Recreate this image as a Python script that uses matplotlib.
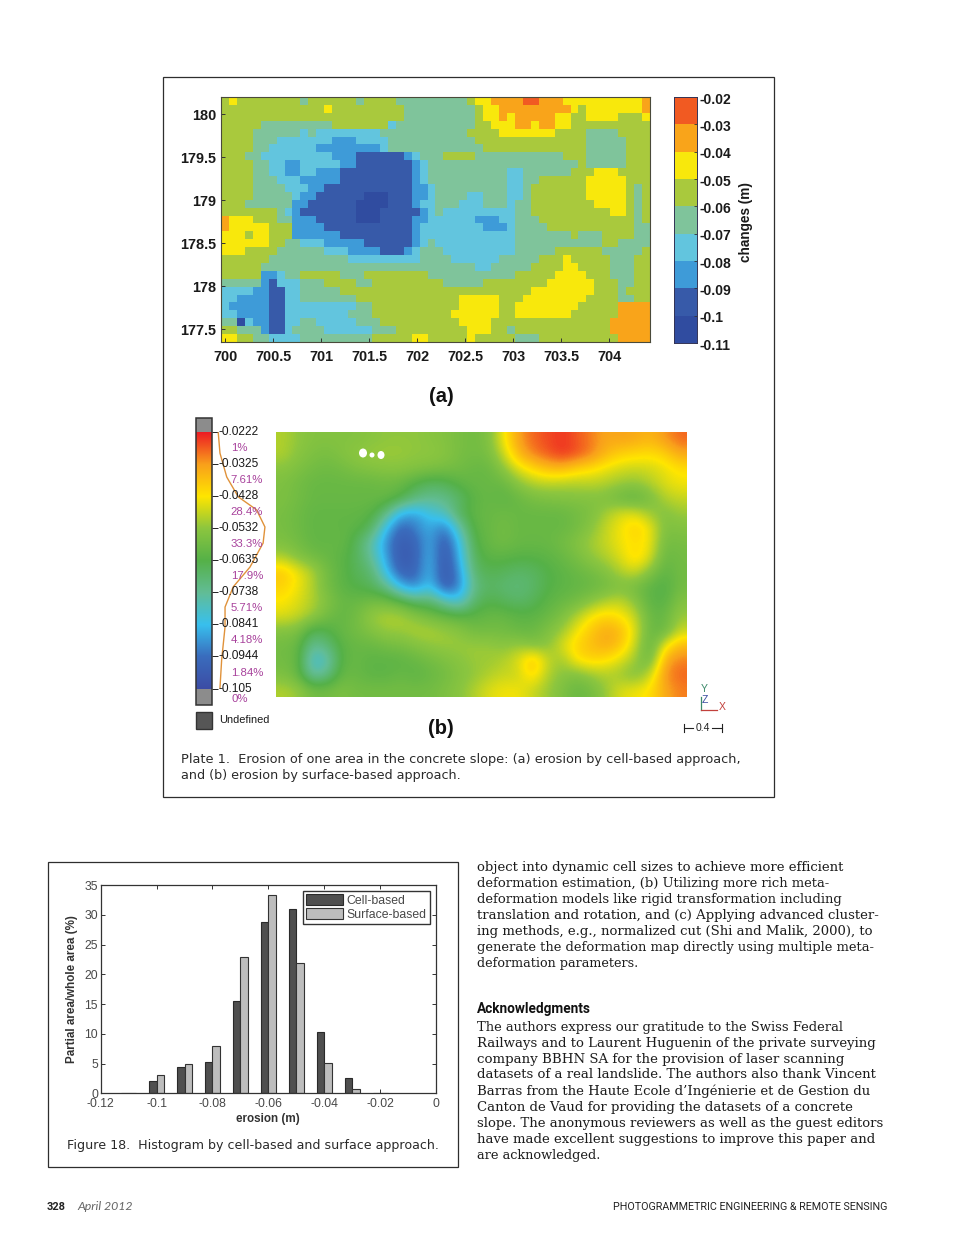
import numpy as np
import matplotlib
matplotlib.use("Agg")
import matplotlib.pyplot as plt
from matplotlib.colors import ListedColormap, BoundaryNorm, LinearSegmentedColormap
from matplotlib.patches import Rectangle, Ellipse

plt.rcParams['font.family'] = ['Liberation Sans', 'DejaVu Sans']

# ==========================================
# Data
# ==========================================
# Plate 1 (a): class of each cell, 0 = lowest band, 8 = highest band
cell_rows = [
    "565555555 545555554 555544444 444456677 778877766 666666667",
    "555555555 555565555 555554444 444445667 777777776 566666667",
    "555555555 555555555 555554444 444445667 677777665 566665556",
    "555554444 444445555 555344444 444445566 677677665 555555555",
    "555544444 434333333 334444444 444455556 666666555 544445555",
    "555544433 333332223 333444444 444445555 555555555 544444555",
    "555544333 333222222 223444444 444444555 555555555 544444555",
    "555443333 333332221 111112344 455554444 444444455 544444555",
    "555544332 233333221 111111234 444444444 444444444 544444555",
    "555544332 233222111 111111234 444444444 334444445 556665555",
    "555544433 322222111 111111234 444444444 334455555 566666555",
    "555544443 332211111 111111223 444444444 334555555 566666545",
    "555544444 322111111 000111223 444433444 334555555 566666545",
    "555444444 221111110 000111233 444333444 344555555 556666545",
    "555555543 211111110 001111123 433333333 344555555 555566545",
    "766655544 222111110 001111223 333332223 344455555 555555545",
    "766666555 222211111 111111233 333333222 344445555 555555544",
    "666566555 222222111 111111233 333333333 344444445 444555544",
    "666666554 433322222 111111234 333333333 344444444 444554444",
    "666555544 444433322 221112344 433333333 344444555 555444445",
    "555555444 444444433 333333344 443333334 444455565 555544455",
    "555554444 444444444 444444444 444443344 444555566 555544455",
    "555552234 455555444 555555554 444444444 455555666 655544455",
    "444442133 344455554 455555555 544444555 555556666 665554455",
    "333322113 344444555 555555555 555555555 555666666 665554555",
    "332222113 344444445 555555555 555666665 556666666 655554455",
    "322222113 333333334 455555555 555666665 566666666 555557777",
    "332222113 333333344 455555555 556666665 566666665 555557777",
    "440322113 344333334 445555555 555666655 555555555 555577777",
    "554442113 444433333 344455555 555566655 455555555 555577777",
    "665544333 344444444 455555665 555565555 544455555 555557777",
]
band_colors = ['#304ca0', '#375aa9', '#3e9bd8', '#62c5de', '#7fc49b',
               '#a9c93d', '#f8e80c', '#f9a41a', '#f15a22']
band_edges = [-0.11, -0.10, -0.09, -0.08, -0.07, -0.06, -0.05, -0.04, -0.03, -0.02]
a_xticks = [700, 700.5, 701, 701.5, 702, 702.5, 703, 703.5, 704]
a_yticks = [177.5, 178, 178.5, 179, 179.5, 180]

# Plate 1 (b): erosion in mm on a coarse grid
surface_mm = [
    [50, 53, 55, 55, 55, 55, 54, 53, 53, 53, 54, 55, 57, 58, 56, 44, 33, 28, 26, 24, 27, 30, 34, 33, 34, 36, 32, 28],
    [50, 54, 56, 57, 55, 53, 52, 52, 52, 53, 53, 54, 57, 58, 57, 48, 36, 30, 27, 24, 26, 30, 36, 40, 41, 42, 40, 34],
    [54, 56, 58, 59, 58, 56, 55, 54, 54, 55, 56, 57, 58, 60, 60, 54, 46, 41, 37, 36, 40, 42, 45, 47, 48, 47, 45, 42],
    [56, 58, 60, 60, 60, 60, 60, 59, 60, 64, 67, 66, 62, 60, 60, 60, 54, 50, 49, 50, 50, 49, 50, 52, 53, 50, 46, 44],
    [56, 58, 60, 60, 60, 60, 60, 60, 63, 70, 73, 72, 68, 62, 60, 62, 60, 57, 56, 55, 55, 55, 56, 60, 62, 57, 50, 48],
    [57, 59, 61, 61, 61, 61, 62, 70, 86, 88, 82, 78, 66, 61, 60, 59, 60, 60, 60, 60, 58, 56, 51, 46, 46, 52, 55, 52],
    [57, 59, 61, 61, 61, 62, 66, 84, 97, 92, 86, 94, 76, 62, 60, 58, 60, 60, 60, 60, 58, 54, 48, 44, 39, 44, 56, 55],
    [56, 58, 61, 61, 60, 66, 76, 90, 100, 97, 86, 100, 84, 64, 60, 58, 60, 60, 60, 58, 55, 51, 48, 44, 42, 44, 58, 57],
    [50, 55, 58, 60, 62, 66, 74, 88, 101, 98, 84, 102, 86, 66, 62, 62, 63, 63, 62, 60, 57, 53, 50, 46, 40, 46, 60, 58],
    [38, 44, 50, 58, 62, 66, 68, 84, 98, 97, 84, 102, 90, 68, 65, 66, 68, 67, 64, 62, 60, 58, 55, 50, 47, 55, 62, 58],
    [40, 44, 50, 58, 62, 64, 66, 72, 86, 92, 82, 100, 92, 72, 67, 69, 70, 68, 64, 62, 61, 60, 58, 56, 58, 62, 64, 58],
    [43, 46, 50, 55, 60, 60, 58, 58, 62, 68, 68, 76, 82, 68, 64, 66, 68, 66, 62, 60, 58, 54, 50, 48, 54, 62, 63, 55],
    [46, 48, 52, 58, 61, 58, 52, 50, 50, 54, 58, 60, 62, 62, 60, 60, 62, 62, 60, 56, 50, 43, 40, 43, 48, 60, 60, 52],
    [55, 56, 66, 64, 60, 58, 55, 52, 52, 50, 50, 52, 54, 58, 58, 58, 60, 60, 56, 52, 44, 38, 34, 36, 46, 60, 60, 48],
    [58, 60, 74, 70, 62, 60, 60, 58, 57, 55, 53, 52, 52, 52, 52, 54, 52, 55, 54, 46, 40, 37, 34, 38, 48, 62, 44, 36],
    [58, 60, 82, 78, 62, 60, 62, 62, 62, 60, 58, 56, 54, 52, 52, 50, 46, 36, 48, 52, 42, 40, 42, 46, 52, 60, 34, 30],
    [56, 60, 76, 72, 60, 60, 62, 62, 60, 62, 60, 58, 55, 53, 50, 48, 48, 40, 50, 54, 56, 52, 50, 52, 56, 48, 31, 28],
    [50, 52, 58, 58, 56, 58, 58, 58, 58, 58, 58, 56, 54, 50, 46, 44, 44, 48, 52, 56, 60, 58, 52, 46, 44, 42, 34, 30],
]
b_levels = [-0.0222, -0.0325, -0.0428, -0.0532, -0.0635, -0.0738, -0.0841, -0.0944, -0.105]
b_level_labels = ['-0.0222', '-0.0325', '-0.0428', '-0.0532', '-0.0635', '-0.0738', '-0.0841', '-0.0944', '-0.105']
b_percents = ['1%', '7.61%', '28.4%', '33.3%', '17.9%', '5.71%', '4.18%', '1.84%']
curve_level = [-0.0225, -0.029, -0.0367, -0.0431, -0.0473, -0.0528, -0.058, -0.0657, -0.0721, -0.0786, -0.085, -0.0956, -0.1047]
curve_share = [0.2, 1.4, 6.2, 14.4, 27.4, 33.3, 32, 22.7, 10.8, 5, 5, 2.6, 1.4]

# Figure 18: histogram
hist_centers = [-0.11, -0.10, -0.09, -0.08, -0.07, -0.06, -0.05, -0.04, -0.03, -0.02]
cell_based = [0.05, 2.0, 4.4, 5.3, 15.5, 28.8, 30.9, 10.3, 2.6, 0.02]
surface_based = [0.1, 3.1, 4.9, 8.0, 22.9, 33.4, 21.9, 5.1, 0.7, 0.07]

# Page text
plate_caption = [
    ("Plate 1.  Erosion of one area in the concrete slope: (a) erosion by cell-based approach,", 181, 741, 759),
    ("and (b) erosion by surface-based approach.", 181, 459, 775),
]
body_text = [
    ("object into dynamic cell sizes to achieve more efficient", 847, 867),
    ("deformation estimation, (b) Utilizing more rich meta-", 834, 883),
    ("deformation models like rigid transformation including", 848, 899),
    ("translation and rotation, and (c) Applying advanced cluster-", 881, 915),
    ("ing methods, e.g., normalized cut (Shi and Malik, 2000), to", 875, 931),
    ("generate the deformation map directly using multiple meta-", 878, 947),
    ("deformation parameters.", 640, 963),
    ("The authors express our gratitude to the Swiss Federal", 845, 1026),
    ("Railways and to Laurent Huguenin of the private surveying", 877, 1042),
    ("company BBHN SA for the provision of laser scanning", 846, 1058),
    ("datasets of a real landslide. The authors also thank Vincent", 877, 1074),
    ("Barras from the Haute Ecole d\u2019Ing\u00e9nierie et de Gestion du", 873, 1090),
    ("Canton de Vaud for providing the datasets of a concrete", 854, 1106),
    ("slope. The anonymous reviewers as well as the guest editors", 885, 1122),
    ("have made excellent suggestions to improve this paper and", 877, 1138),
    ("are acknowledged.", 601, 1154),
]

# ==========================================
# Page and helpers
# ==========================================
W, H = 960, 1245
fig = plt.figure(figsize=(W / 100, H / 100), dpi=100, facecolor='white')


def px_axes(x0, y0, x1, y1, **kw):
    return fig.add_axes([x0 / W, 1 - y1 / H, (x1 - x0) / W, (y1 - y0) / H], **kw)


page = px_axes(0, 0, W, H, zorder=10)
page.set_xlim(0, W)
page.set_ylim(H, 0)
page.axis('off')


def fit_text(txt, x0, x1, y, size=10, **kw):
    # scale the font so the line spans x0..x1 like on the scanned page
    t = page.text(x0, y + 1, txt, fontsize=size, ha='left', va='center', **kw)
    w = t.get_window_extent(fig.canvas.get_renderer()).width
    t.set_fontsize(size * (x1 - x0) / w)
    return t


# panel frames
page.add_patch(Rectangle((163, 77), 611, 720, fill=False, ec='#2e2e2e', lw=0.9))
page.add_patch(Rectangle((48, 862), 410, 305, fill=False, ec='#2e2e2e', lw=0.9))

# ==========================================
# Plate 1 (a)
# ==========================================
cells = np.array([[int(c) for c in r.replace(' ', '')] for r in cell_rows])
band_cmap = ListedColormap(band_colors)
band_norm = BoundaryNorm(np.arange(-0.5, 9.5), 9)

ax_a = px_axes(221, 97, 650, 342)
ax_a.imshow(cells, cmap=band_cmap, norm=band_norm, aspect='auto', origin='upper',
            interpolation='nearest', extent=[699.958, 704.427, 177.349, 180.198])
ax_a.set_xticks(a_xticks)
ax_a.set_xticklabels([f'{v:g}' for v in a_xticks])
ax_a.set_yticks(a_yticks)
ax_a.set_yticklabels([f'{v:g}' for v in a_yticks])
ax_a.tick_params(direction='in', length=3, width=0.7, labelsize=10.4, color='#333333', labelcolor='#1a1a1a')
ax_a.tick_params(axis='x', pad=5.5)
ax_a.tick_params(axis='y', pad=3.5)
for lab in ax_a.get_xticklabels() + ax_a.get_yticklabels():
    lab.set_fontweight('bold')
for s in ax_a.spines.values():
    s.set_linewidth(0.8)
    s.set_color('#4a4a3a')

cb_a = px_axes(674, 97, 697, 343)
cb_a.pcolormesh([0, 1], band_edges, np.arange(9).reshape(-1, 1), cmap=band_cmap, norm=band_norm)
cb_a.set_ylim(band_edges[0], band_edges[-1])
cb_a.set_xticks([])
cb_a.set_yticks(band_edges)
cb_a.set_yticklabels([])
cb_a.tick_params(direction='in', length=2, width=0.6, right=True, left=False, color='#333333')
for s in cb_a.spines.values():
    s.set_linewidth(0.7)
    s.set_color('#333355')
for v in band_edges:
    cb_a.annotate(f'{v:g}', (1, v), xycoords=cb_a.get_yaxis_transform(), xytext=(1.8, -2),
                  textcoords='offset points', fontsize=10, fontweight='bold', va='center',
                  color='#1a1a1a', annotation_clip=False)
page.text(746, 222, 'changes (m)', rotation=90, fontsize=9.8, fontweight='bold', ha='center', va='center',
          color='#1a1a1a')
page.text(441, 396, '(a)', fontsize=14.5, fontweight='bold', ha='center', va='center', color='#111111')

# ==========================================
# Plate 1 (b)
# ==========================================
rainbow = LinearSegmentedColormap.from_list('surface', [
    (0.0, '#3c4ca5'), (0.125, '#3a6cbd'), (0.25, '#38c0ee'), (0.375, '#62bd96'),
    (0.5, '#55b148'), (0.625, '#8cc63f'), (0.75, '#ffe600'), (0.875, '#f9a01b'), (1.0, '#ed1c24')])

ax_b = px_axes(276, 432, 687, 697)
ax_b.imshow(-np.array(surface_mm) / 1000, cmap=rainbow, vmin=-0.105, vmax=-0.0222, aspect='auto',
            interpolation='bicubic')
ax_b.axis('off')

# holes in the surface
for x, y, w, h in [(363, 453, 8, 9), (372, 455, 5, 5), (381, 455, 7, 8)]:
    page.add_patch(Ellipse((x, y), w, h, fc='white', ec='none'))

cb_b = px_axes(196, 432, 212, 689)
cb_b.imshow(np.linspace(-0.0222, -0.105, 256).reshape(-1, 1), cmap=rainbow, vmin=-0.105, vmax=-0.0222,
            aspect='auto', extent=[-15.6, -4.25, -0.105, -0.0222])
cb_b.set_xticks([])
cb_b.set_yticks(b_levels)
cb_b.set_yticklabels([])
cb_b.tick_params(direction='out', length=4.5, width=0.7, right=True, left=False, color='#222222')
for s in cb_b.spines.values():
    s.set_visible(False)
cb_b.plot(curve_share, curve_level, color='#e0923a', lw=1.0, clip_on=False, zorder=5)
cb_b.set_xlim(-15.6, -4.25)
cb_b.set_ylim(-0.105, -0.0222)
for v, lab in zip(b_levels, b_level_labels):
    cb_b.annotate(lab, (1, v), xycoords=cb_b.get_yaxis_transform(), xytext=(4.6, 0),
                  textcoords='offset points', fontsize=8.6, va='center', color='#1a1a1a',
                  annotation_clip=False, zorder=6)
mid_levels = [(a + b) / 2 for a, b in zip(b_levels[:-1], b_levels[1:])]
for v, lab in zip(mid_levels, b_percents):
    cb_b.annotate(lab, (1, v), xycoords=cb_b.get_yaxis_transform(), xytext=(13.5, 0),
                  textcoords='offset points', fontsize=8.2, va='center', color='#a8429c',
                  annotation_clip=False, zorder=6)
page.text(231, 699, '0%', fontsize=8.2, va='center', color='#a8429c')

page.add_patch(Rectangle((196, 418), 16, 14, fc='#8c8c8c', ec='none'))
page.add_patch(Rectangle((196, 689), 16, 16, fc='#8c8c8c', ec='none'))
page.add_patch(Rectangle((196, 418), 16, 287, fill=False, ec='#333333', lw=1.1))
page.add_patch(Rectangle((196, 712), 16, 17, fc='#565656', ec='#333333', lw=1.0))
page.text(219, 720, 'Undefined', fontsize=7.9, va='center', color='#1a1a1a')
page.text(441, 729, '(b)', fontsize=14.5, fontweight='bold', ha='center', va='center', color='#111111')

# axis triad and scale bar
page.plot([701, 701], [697, 710], color='#3c8a6a', lw=0.9)
page.plot([701, 717], [710, 710], color='#c2403c', lw=0.9)
page.text(704, 689, 'Y', fontsize=7.5, color='#3c8a6a', ha='center', va='center')
page.text(705, 700, 'Z', fontsize=7.5, color='#3a4ca0', ha='center', va='center')
page.text(722, 707, 'X', fontsize=7.5, color='#c2403c', ha='center', va='center')
page.plot([684, 693], [728, 728], color='#222222', lw=0.8)
page.plot([712, 722], [728, 728], color='#222222', lw=0.8)
page.plot([684, 684], [724, 732], color='#222222', lw=0.8)
page.plot([722, 722], [724, 732], color='#222222', lw=0.8)
page.text(702.5, 728, '0.4', fontsize=7.5, color='#222222', ha='center', va='center')

for txt, x0, x1, y in plate_caption:
    fit_text(txt, x0, x1, y, family='DejaVu Sans', color='#2a2a2a')

# ==========================================
# Figure 18 histogram
# ==========================================
ax_h = px_axes(100.7, 885, 436, 1093.3)
bar_w = 0.0027
cen = np.array(hist_centers)
ax_h.bar(cen - bar_w / 2, cell_based, bar_w, color='#4f4f4f', edgecolor='#2a2a2a', lw=0.8, label='Cell-based')
ax_h.bar(cen + bar_w / 2, surface_based, bar_w, color='#bdbdbd', edgecolor='#333333', lw=0.8, label='Surface-based')
ax_h.set_xlim(-0.12, 0)
ax_h.set_ylim(0, 35)
ax_h.set_xticks([-0.12, -0.1, -0.08, -0.06, -0.04, -0.02, 0])
ax_h.set_xticklabels(['-0.12', '-0.1', '-0.08', '-0.06', '-0.04', '-0.02', '0'])
ax_h.set_yticks(range(0, 36, 5))
ax_h.tick_params(direction='in', length=3, width=0.7, top=True, right=True, labelsize=8.8,
                 color='#333333', labelcolor='#484848')
ax_h.tick_params(axis='x', pad=3.6)
ax_h.tick_params(axis='y', pad=2)
for s in ax_h.spines.values():
    s.set_linewidth(0.9)
    s.set_color('#333333')
ax_h.legend(loc='upper right', fontsize=8.8, frameon=True, fancybox=False, framealpha=1, edgecolor='#333333',
            handlelength=3.0, handleheight=0.95, handletextpad=0.35, labelspacing=0.12, borderpad=0.25,
            borderaxespad=0.5, labelcolor='#484848')
page.text(268, 1119, 'erosion (m)', fontsize=8.4, fontweight='bold', ha='center', va='center', color='#333333')
page.text(72, 989, 'Partial area/whole area (%)', fontsize=8.4, fontweight='bold', rotation=90, ha='center',
          va='center', color='#333333')
fit_text('Figure 18.  Histogram by cell-based and surface approach.', 67, 438, 1144, family='DejaVu Sans',
         color='#2a2a2a')

# ==========================================
# Body text and footer
# ==========================================
for txt, x1, y in body_text:
    fit_text(txt, 477, x1, y, family='DejaVu Serif', color='#1c1c1c')
fit_text('Acknowledgments', 477, 591, 1008, fontweight='bold', family='Roboto', color='#111111')
fit_text('328', 47, 66, 1206, fontweight='bold', family='Roboto', color='#222222')
fit_text('April 2012', 77, 133, 1206, style='italic', family='Lato', color='#666666')
fit_text('PHOTOGRAMMETRIC ENGINEERING & REMOTE SENSING', 613, 889, 1206, family='Roboto', color='#222222')

fig.savefig('out.png', dpi=100, facecolor='white')
